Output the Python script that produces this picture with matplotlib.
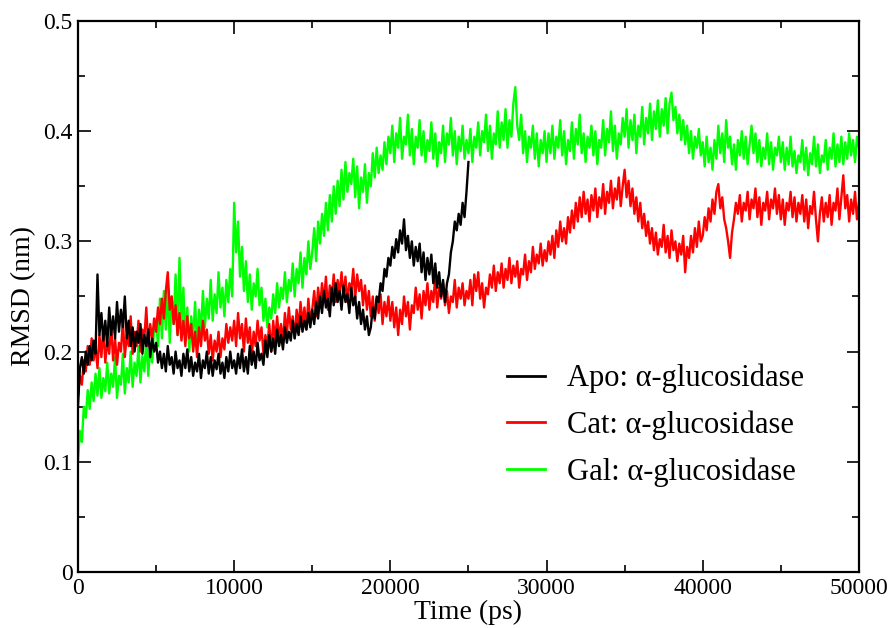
# RMSD of alpha-glucosidase systems over a 50 ns trajectory (xmgrace style)

import matplotlib
matplotlib.use("Agg")
import matplotlib.pyplot as plt
import numpy as np
from matplotlib.ticker import MultipleLocator, FuncFormatter

plt.rcParams["font.family"] = ["Liberation Serif", "DejaVu Serif"]

# --- data, RMSD in 1e-3 nm, one sample every 125 ps ---
time_step = 125

gal_rmsd = [
    # 0 - 5000 ps
    100, 128, 118, 150, 140, 165, 148, 172, 155, 180, 160, 185, 158, 176, 164, 190, 162, 180, 168, 195,
    158, 178, 170, 198, 162, 185, 172, 200, 168, 190, 178, 205, 172, 196, 182, 212, 178, 205, 190, 222,
    # 5000 - 10000
    230, 205, 248, 212, 255, 220, 262, 208, 250, 225, 270, 215, 285, 225, 258, 210, 240, 200, 232, 212,
    245, 205, 238, 218, 255, 222, 248, 230, 265, 228, 252, 235, 272, 240, 258, 232, 265, 245, 275, 250,
    # 10000 - 15000
    335, 290, 318, 268, 295, 255, 282, 245, 270, 238, 262, 250, 275, 242, 258, 228, 248, 222, 240, 230,
    252, 235, 262, 240, 258, 248, 272, 245, 265, 255, 280, 250, 275, 262, 290, 258, 285, 270, 300, 275,
    # 15000 - 20000
    290, 312, 282, 318, 298, 325, 305, 335, 310, 342, 318, 350, 325, 355, 332, 365, 338, 372, 345, 362,
    352, 375, 340, 368, 330, 358, 345, 370, 335, 362, 350, 380, 358, 385, 362, 378, 365, 390, 370, 395,
    # 20000 - 25000
    380, 405, 372, 398, 385, 412, 375, 395, 388, 415, 378, 402, 370, 395, 385, 410, 378, 400, 372, 392,
    382, 408, 375, 398, 368, 390, 380, 405, 372, 398, 388, 412, 378, 400, 370, 395, 382, 405, 375, 392,
    # 25000 - 30000
    380, 402, 372, 395, 385, 408, 378, 400, 390, 415, 382, 405, 375, 398, 388, 418, 385, 408, 392, 420,
    385, 410, 395, 425, 440, 405, 392, 415, 380, 400, 372, 395, 385, 405, 375, 398, 368, 392, 380, 400,
    # 30000 - 35000
    372, 398, 380, 405, 375, 395, 385, 410, 378, 400, 370, 392, 382, 408, 375, 402, 388, 415, 380, 398,
    372, 395, 385, 405, 378, 400, 370, 392, 385, 410, 378, 402, 390, 418, 382, 405, 375, 398, 388, 412,
    # 35000 - 40000
    395, 420, 385, 410, 392, 415, 380, 405, 395, 422, 388, 412, 398, 425, 392, 418, 402, 428, 395, 420,
    405, 430, 398, 425, 435, 410, 422, 398, 415, 392, 410, 388, 405, 380, 400, 375, 395, 385, 402, 378,
    # 40000 - 45000
    390, 368, 395, 372, 385, 365, 392, 375, 405, 380, 398, 372, 410, 385, 395, 370, 388, 365, 392, 378,
    400, 375, 395, 370, 388, 405, 380, 398, 372, 392, 368, 385, 375, 398, 370, 390, 365, 385, 378, 395,
    # 45000 - 50000
    372, 390, 365, 385, 370, 395, 368, 382, 362, 378, 372, 392, 365, 385, 360, 380, 370, 395, 368, 388,
    362, 378, 372, 392, 365, 385, 375, 398, 368, 388, 372, 395, 370, 390, 375, 398, 378, 392, 372, 395,
    385,
]

cat_rmsd = [
    # 0 - 5000 ps
    160, 178, 170, 192, 182, 205, 188, 212, 192, 205, 185, 215, 195, 222, 190, 210, 198, 225, 192, 212,
    188, 208, 200, 228, 195, 215, 205, 232, 198, 218, 205, 228, 200, 220, 212, 240, 205, 225, 210, 230,
    # 5000 - 10000
    218, 240, 225, 248, 230, 255, 272, 238, 250, 225, 242, 215, 235, 210, 228, 205, 232, 212, 225, 200,
    218, 195, 222, 205, 228, 210, 220, 198, 215, 192, 210, 200, 218, 195, 212, 202, 225, 208, 222, 210,
    # 10000 - 15000
    228, 205, 235, 212, 225, 200, 230, 208, 222, 195, 218, 205, 228, 210, 222, 198, 215, 205, 225, 200,
    228, 210, 232, 212, 225, 208, 235, 215, 240, 220, 232, 212, 238, 222, 245, 225, 240, 220, 248, 228,
    # 15000 - 20000
    238, 255, 232, 258, 240, 262, 245, 268, 238, 260, 248, 270, 245, 265, 252, 272, 250, 268, 245, 262,
    255, 275, 248, 270, 255, 265, 242, 260, 238, 255, 232, 250, 228, 248, 235, 252, 225, 245, 232, 250,
    # 20000 - 25000
    228, 245, 222, 240, 215, 238, 225, 250, 232, 245, 220, 242, 235, 258, 238, 252, 230, 255, 242, 262,
    238, 255, 245, 268, 240, 258, 248, 262, 242, 255, 235, 250, 245, 265, 240, 258, 248, 262, 242, 255,
    # 25000 - 30000
    248, 265, 242, 270, 255, 272, 248, 262, 240, 258, 252, 270, 258, 278, 255, 272, 262, 280, 258, 275,
    265, 285, 262, 278, 268, 282, 258, 275, 270, 288, 265, 282, 272, 295, 275, 288, 280, 298, 278, 292,
    # 30000 - 35000
    282, 300, 288, 305, 285, 310, 295, 318, 300, 312, 298, 322, 308, 328, 312, 335, 318, 340, 322, 345,
    325, 338, 318, 342, 328, 348, 322, 340, 330, 352, 325, 345, 335, 355, 330, 348, 338, 358, 332, 350,
    # 35000 - 40000
    365, 340, 355, 332, 348, 325, 340, 318, 335, 312, 325, 305, 318, 298, 312, 292, 308, 288, 302, 295,
    315, 290, 305, 285, 310, 292, 300, 282, 298, 288, 305, 272, 295, 285, 305, 290, 312, 295, 318, 300,
    # 40000 - 45000
    305, 322, 310, 330, 318, 338, 325, 345, 352, 330, 340, 320, 312, 300, 285, 308, 320, 335, 325, 342,
    318, 335, 328, 345, 320, 338, 330, 348, 322, 340, 315, 335, 328, 345, 320, 338, 330, 348, 325, 342,
    # 45000 - 50000
    320, 338, 315, 335, 328, 345, 322, 340, 318, 335, 325, 342, 318, 338, 312, 332, 325, 345, 320, 300,
    325, 340, 318, 335, 322, 342, 315, 335, 328, 348, 320, 340, 360, 330, 342, 318, 338, 325, 345, 320,
    335,
]

apo_rmsd = [
    # 0 - 5000 ps
    150, 185, 195, 180, 200, 188, 205, 192, 210, 198, 270, 215, 235, 210, 228, 205, 240, 215, 232, 212,
    245, 218, 238, 222, 250, 212, 228, 205, 222, 200, 218, 208, 225, 198, 215, 205, 220, 195, 212, 200,
    # 5000 - 10000
    208, 190, 200, 185, 198, 182, 205, 188, 195, 180, 200, 185, 192, 178, 198, 185, 202, 182, 195, 178,
    190, 182, 198, 176, 192, 185, 200, 180, 195, 178, 192, 184, 198, 180, 190, 176, 195, 182, 200, 185,
    # 10000 - 15000
    192, 180, 198, 185, 202, 182, 195, 180, 205, 188, 200, 185, 208, 192, 198, 188, 210, 195, 215, 200,
    212, 198, 220, 205, 215, 202, 222, 208, 218, 210, 228, 212, 225, 215, 232, 218, 228, 220, 235, 222,
    # 15000 - 20000
    238, 225, 245, 230, 250, 235, 255, 240, 248, 232, 258, 242, 262, 245, 255, 238, 260, 245, 252, 235,
    258, 242, 250, 230, 245, 225, 238, 220, 232, 215, 222, 240, 230, 250, 245, 262, 255, 275, 268, 285,
    # 20000 - 25000
    278, 295, 285, 302, 290, 310, 298, 320, 292, 305, 285, 300, 278, 295, 282, 298, 272, 290, 265, 285,
    270, 288, 262, 280, 258, 272, 250, 265, 245, 262, 270, 290, 300, 318, 310, 325, 315, 335, 322, 345,
    372,
]

series = [
    ("Apo: α-glucosidase", apo_rmsd, "black"),
    ("Cat: α-glucosidase", cat_rmsd, "red"),
    ("Gal: α-glucosidase", gal_rmsd, "#00ff00"),
]

fig = plt.figure(figsize=(8.91, 6.28), dpi=100)
ax = fig.add_axes([0.0875, 0.0892, 0.8765, 0.8774])

# green at the back, black on top
for label, values, color in reversed(series):
    t = np.arange(len(values)) * time_step
    ax.plot(t, np.asarray(values) / 1000.0, color=color, linewidth=1.7, label=label)

ax.set_xlim(0, 50000)
ax.set_ylim(0, 0.5)
ax.xaxis.set_major_locator(MultipleLocator(10000))
ax.xaxis.set_minor_locator(MultipleLocator(5000))
ax.yaxis.set_major_locator(MultipleLocator(0.1))
ax.yaxis.set_minor_locator(MultipleLocator(0.05))
ax.yaxis.set_major_formatter(FuncFormatter(lambda v, _: "0" if abs(v) < 1e-9 else f"{v:.1f}"))

ax.tick_params(which="both", direction="in", top=True, right=True, width=1.2)
ax.tick_params(which="major", length=9, labelsize=17, pad=4)
ax.tick_params(which="minor", length=5)
for spine in ax.spines.values():
    spine.set_linewidth(1.6)

ax.set_xlabel("Time (ps)", fontsize=20, labelpad=1)
ax.set_ylabel("RMSD (nm)", fontsize=20, labelpad=5)

handles, labels = ax.get_legend_handles_labels()
leg = ax.legend(
    handles[::-1], labels[::-1],
    loc="upper left", bbox_to_anchor=(0.549, 0.378),
    frameon=False, fontsize=22,
    handlelength=1.25, handletextpad=0.72, labelspacing=0.57,
    borderpad=0, borderaxespad=0,
)
for line in leg.get_lines():
    line.set_linewidth(2)

plt.savefig("out.png", dpi=100)
plt.close()
